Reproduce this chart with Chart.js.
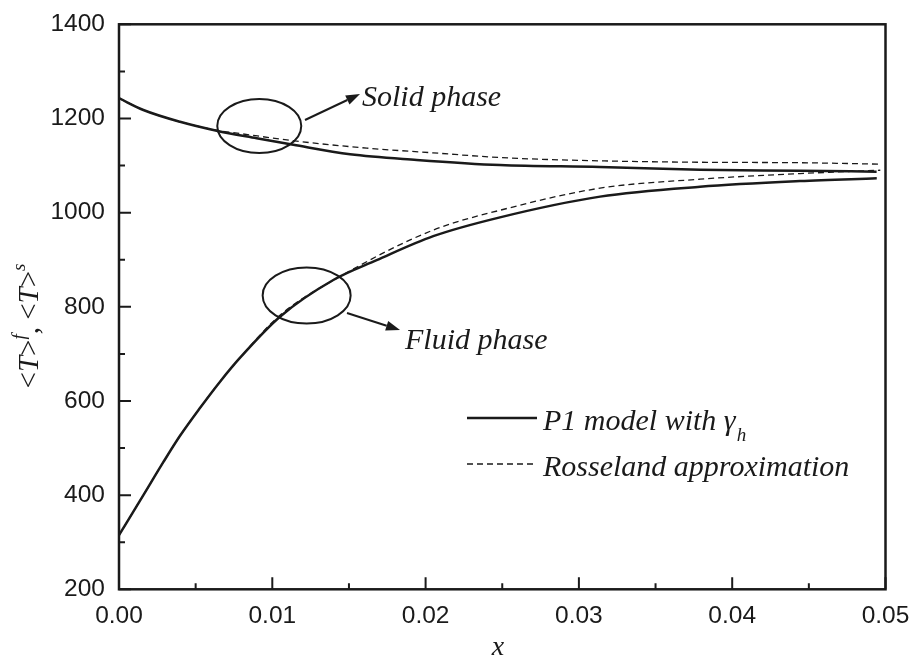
<!DOCTYPE html>
<html>
<head>
<meta charset="utf-8">
<script src="https://cdn.jsdelivr.net/npm/chart.js@4.4.1/dist/chart.umd.min.js"></script>
<style>
html, body { margin: 0; padding: 0; background: #fff; }
#wrap { width: 912px; height: 662px; position: relative; }
</style>
</head>
<body>
<div id="wrap"><canvas id="tempChart"></canvas></div>
<script>
// Solid phase, P1 model with gamma_h
const xSolidP1 = [0, 0.00159, 0.00398, 0.00637, 0.00898, 0.01137, 0.01507, 0.01942, 0.02485, 0.03137, 0.0379, 0.04442, 0.04942];
const ySolidP1 = [1243, 1218, 1193, 1174, 1158, 1144, 1124, 1112, 1101, 1097, 1091, 1089, 1087];

// Solid phase, Rosseland approximation
const xSolidRos = [0, 0.00159, 0.00398, 0.00637, 0.00811, 0.01181, 0.01616, 0.02048, 0.02485, 0.03138, 0.0379, 0.04442, 0.04966];
const ySolidRos = [1243, 1218, 1193, 1175, 1167, 1151, 1137, 1127, 1117, 1110, 1107, 1106, 1103];

// Fluid phase, P1 model with gamma_h
const xFluidP1 = [0, 0.00159, 0.00289, 0.00398, 0.00528, 0.00659, 0.0079, 0.0105, 0.01398, 0.01681, 0.0205, 0.02485, 0.03138, 0.0379, 0.04442, 0.04943];
const yFluidP1 = [315, 400, 470, 526, 585, 641, 692, 779, 857, 899, 950, 990, 1034, 1055, 1067, 1073];

// Fluid phase, Rosseland approximation
const xFluidRos = [0, 0.00159, 0.00289, 0.00398, 0.00528, 0.00659, 0.0079, 0.0105, 0.0144, 0.0205, 0.02485, 0.03138, 0.0379, 0.04442, 0.04966];
const yFluidRos = [315, 400, 470, 526, 585, 641, 692, 782, 864, 963, 1005, 1052, 1071, 1083, 1090];

// axis ticks
const xTicks = [0, 0.01, 0.02, 0.03, 0.04, 0.05];
const yTicks = [200, 400, 600, 800, 1000, 1200, 1400];

const legendLabels = ['P1 model with \u03b3', 'Rosseland approximation'];

const zip = (xs, ys) => xs.map((x, i) => ({ x: x, y: ys[i] }));

const ink = '#1a1a1a';
const serifItalic = (size) => `italic ${size}px "Liberation Serif", "DejaVu Serif", serif`;

// callouts: ellipse around the curves, arrow, label
const callouts = [
    { text: 'Solid phase', cx: 0.00915, cy: 1184, rx: 42, ry: 27, from: [305, 120], to: [360, 94], tx: 362, ty: 106 },
    { text: 'Fluid phase', cx: 0.01224, cy: 824, rx: 44, ry: 28, from: [347, 313], to: [400, 330], tx: 405, ty: 349 },
];

function drawArrow(ctx, x1, y1, x2, y2) {
    const ang = Math.atan2(y2 - y1, x2 - x1);
    const len = 14, half = 5;
    ctx.beginPath();
    ctx.moveTo(x1, y1);
    ctx.lineTo(x2 - len * Math.cos(ang), y2 - len * Math.sin(ang));
    ctx.stroke();
    ctx.beginPath();
    ctx.moveTo(x2, y2);
    ctx.lineTo(x2 - len * Math.cos(ang) + half * Math.sin(ang), y2 - len * Math.sin(ang) - half * Math.cos(ang));
    ctx.lineTo(x2 - len * Math.cos(ang) - half * Math.sin(ang), y2 - len * Math.sin(ang) + half * Math.cos(ang));
    ctx.closePath();
    ctx.fill();
}

const decorPlugin = {
    id: 'decor',
    afterDraw(chart) {
        const ctx = chart.ctx;
        const a = chart.chartArea;
        const xs = chart.scales.x, ys = chart.scales.y;
        ctx.save();
        ctx.strokeStyle = ink;
        ctx.fillStyle = ink;

        // frame
        ctx.lineWidth = 2.5;
        ctx.strokeRect(a.left, a.top, a.right - a.left, a.bottom - a.top);

        // inward ticks, major + minor
        ctx.lineWidth = 2;
        ctx.beginPath();
        for (let i = 0; i < xTicks.length; i++) {
            const px = xs.getPixelForValue(xTicks[i]);
            ctx.moveTo(px, a.bottom); ctx.lineTo(px, a.bottom - 12);
            if (i < xTicks.length - 1) {
                const pm = xs.getPixelForValue((xTicks[i] + xTicks[i + 1]) / 2);
                ctx.moveTo(pm, a.bottom); ctx.lineTo(pm, a.bottom - 6);
            }
        }
        for (let i = 0; i < yTicks.length; i++) {
            const py = ys.getPixelForValue(yTicks[i]);
            ctx.moveTo(a.left, py); ctx.lineTo(a.left + 12, py);
            if (i < yTicks.length - 1) {
                const pm = ys.getPixelForValue((yTicks[i] + yTicks[i + 1]) / 2);
                ctx.moveTo(a.left, pm); ctx.lineTo(a.left + 6, pm);
            }
        }
        ctx.stroke();

        // callouts
        ctx.lineWidth = 2;
        ctx.font = serifItalic(30);
        ctx.textBaseline = 'alphabetic';
        callouts.forEach(c => {
            ctx.beginPath();
            ctx.ellipse(xs.getPixelForValue(c.cx), ys.getPixelForValue(c.cy), c.rx, c.ry, 0, 0, Math.PI * 2);
            ctx.stroke();
            drawArrow(ctx, c.from[0], c.from[1], c.to[0], c.to[1]);
            ctx.fillText(c.text, c.tx, c.ty);
        });

        // legend
        ctx.lineWidth = 2.5;
        ctx.setLineDash([]);
        ctx.beginPath(); ctx.moveTo(467, 418); ctx.lineTo(537, 418); ctx.stroke();
        ctx.lineWidth = 1.3;
        ctx.setLineDash([6, 4]);
        ctx.beginPath(); ctx.moveTo(467, 464); ctx.lineTo(537, 464); ctx.stroke();
        ctx.setLineDash([]);
        ctx.font = serifItalic(30);
        ctx.fillText(legendLabels[0], 543, 430);
        const w0 = ctx.measureText(legendLabels[0]).width;
        ctx.font = serifItalic(19);
        ctx.fillText('h', 543 + w0 + 1, 441);
        ctx.font = serifItalic(30);
        ctx.fillText(legendLabels[1], 543, 476);

        // x title
        ctx.font = serifItalic(28);
        ctx.textAlign = 'center';
        ctx.fillText('x', 498, 655);

        // y title: <T>^f, <T>^s
        ctx.translate(38, 326);
        ctx.rotate(-Math.PI / 2);
        const parts = [
            ['<', 29, 0, false], ['T', 29, 0, true], ['>', 29, 0, false], ['f', 19, -13, true],
            [', ', 29, 0, false], ['<', 29, 0, false], ['T', 29, 0, true], ['>', 29, 0, false], ['s', 19, -13, true],
        ];
        const fontOf = p => (p[3] ? 'italic ' : '') + p[1] + 'px "Liberation Serif", serif';
        let total = 0;
        parts.forEach(p => { ctx.font = fontOf(p); total += ctx.measureText(p[0]).width; });
        let cx = -total / 2;
        ctx.textAlign = 'left';
        parts.forEach(p => {
            ctx.font = fontOf(p);
            ctx.fillText(p[0], cx, p[2]);
            cx += ctx.measureText(p[0]).width;
        });
        ctx.restore();
    }
};

Chart.defaults.font.family = '"Liberation Sans", Arial, sans-serif';
Chart.defaults.color = ink;

const lineStyle = (dashed) => ({
    borderColor: ink,
    borderWidth: dashed ? 1.3 : 2.5,
    borderDash: dashed ? [6, 4] : [],
    pointRadius: 0,
    fill: false,
    cubicInterpolationMode: 'monotone',
});

new Chart(document.getElementById('tempChart'), {
    type: 'line',
    data: {
        datasets: [
            { label: 'Solid P1', data: zip(xSolidP1, ySolidP1), ...lineStyle(false) },
            { label: 'Solid Rosseland', data: zip(xSolidRos, ySolidRos), ...lineStyle(true) },
            { label: 'Fluid P1', data: zip(xFluidP1, yFluidP1), ...lineStyle(false) },
            { label: 'Fluid Rosseland', data: zip(xFluidRos, yFluidRos), ...lineStyle(true) },
        ],
    },
    options: {
        responsive: true,
        maintainAspectRatio: false,
        animation: false,
        layout: { padding: { left: 0, right: 26.5, top: 24.3, bottom: 0 } },
        plugins: { legend: { display: false }, tooltip: { enabled: false } },
        scales: {
            x: {
                type: 'linear',
                min: 0, max: 0.05,
                grid: { display: false, drawTicks: false },
                border: { display: false },
                // fixed box so the plot area lines up; labels may overflow
                afterFit: s => { s.height = 72.7; s.paddingLeft = 0; s.paddingRight = 0; },
                afterBuildTicks: s => { s.ticks = xTicks.map(v => ({ value: v })); },
                ticks: { padding: 12, font: { size: 24.5 }, callback: v => v.toFixed(2) },
            },
            y: {
                type: 'linear',
                min: 200, max: 1400,
                grid: { display: false, drawTicks: false },
                border: { display: false },
                afterFit: s => { s.width = 119; s.paddingTop = 0; s.paddingBottom = 0; },
                afterBuildTicks: s => { s.ticks = yTicks.map(v => ({ value: v })); },
                ticks: { padding: 14, font: { size: 24.5 }, callback: v => String(v) },
            },
        },
    },
    plugins: [decorPlugin],
});
</script>
</body>
</html>
